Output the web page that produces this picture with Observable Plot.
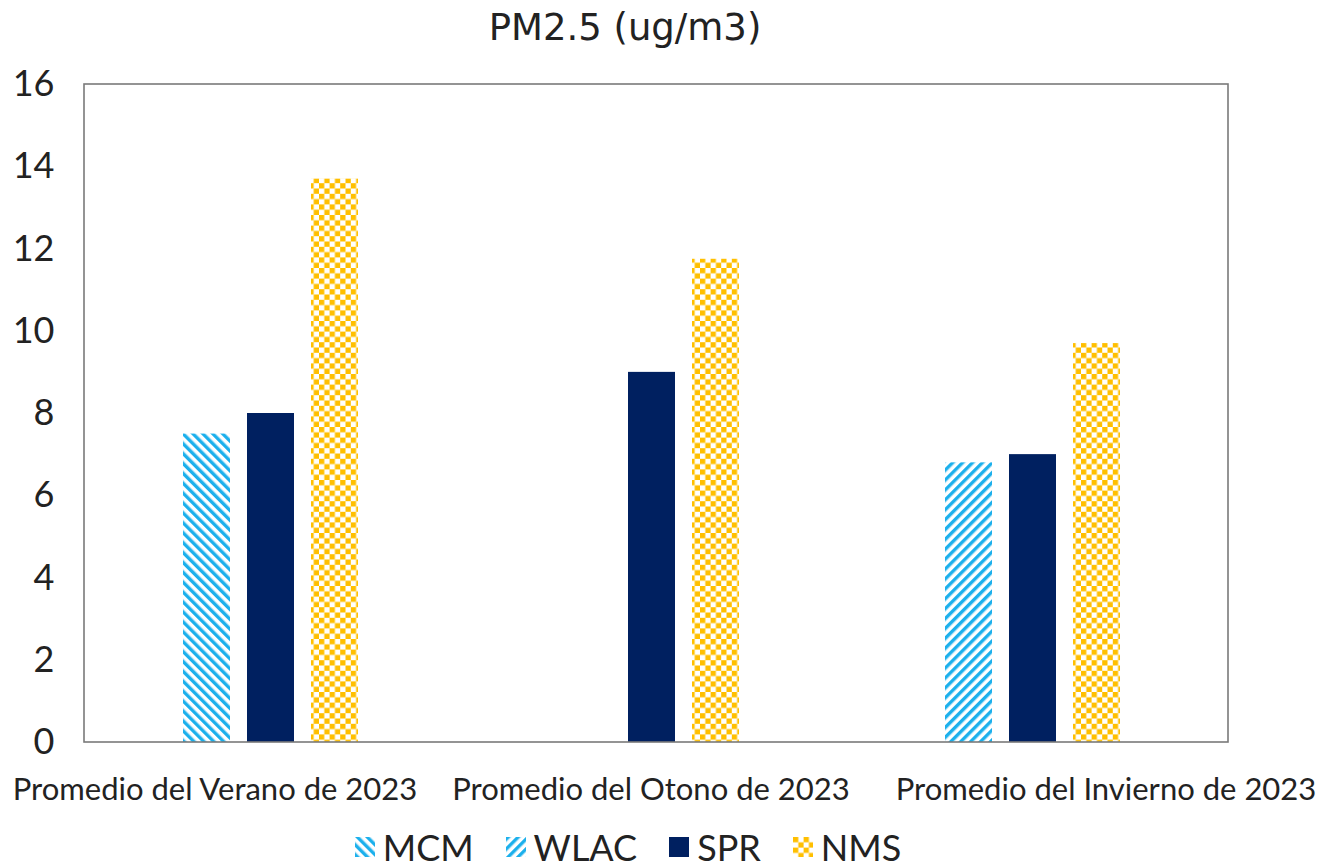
<!DOCTYPE html>
<html>
<head>
<meta charset="utf-8">
<script src="https://cdn.jsdelivr.net/npm/d3@7"></script>
<script src="https://cdn.jsdelivr.net/npm/@observablehq/plot@0.6"></script>
<style>
  html, body { margin: 0; padding: 0; background: #fff; }
  body { width: 1332px; height: 867px; overflow: hidden; font-family: Lato, "Open Sans", sans-serif; color: #222; }
  #title { width: 1250px; height: 56px; line-height: 56px; text-align: center; font-size: 37px; font-family: "DejaVu Sans", sans-serif; }
  #chart svg { display: block; }
  #legend { width: 1256px; height: 62px; display: flex; justify-content: center; align-items: center; font-size: 36px; }
  .item { display: flex; align-items: center; margin: 0 16px; }
  .item svg { margin-right: 8px; }
</style>
</head>
<body>
<svg width="0" height="0" style="position:absolute">
  <defs>
    <pattern id="pat-MCM" patternUnits="userSpaceOnUse" width="7" height="7" patternTransform="rotate(-45)">
      <rect width="7" height="7" fill="#fff"/>
      <rect width="3.4" height="7" fill="#1cb0ec"/>
    </pattern>
    <pattern id="pat-WLAC" patternUnits="userSpaceOnUse" width="7" height="7" patternTransform="rotate(45)">
      <rect width="7" height="7" fill="#fff"/>
      <rect width="3.4" height="7" fill="#1cb0ec"/>
    </pattern>
    <pattern id="pat-NMS" patternUnits="userSpaceOnUse" width="10.6" height="10.6">
      <rect width="10.6" height="10.6" fill="#fff"/>
      <rect x="0" y="0" width="5.3" height="5.3" fill="#ffbf00"/>
      <rect x="5.3" y="5.3" width="5.3" height="5.3" fill="#ffbf00"/>
    </pattern>
  </defs>
</svg>
<div id="title">PM2.5 (ug/m3)</div>
<div id="chart"></div>
<div id="legend"></div>
<script>
// ---- data ----
const seasons = ["Promedio del Verano de 2023", "Promedio del Otono de 2023", "Promedio del Invierno de 2023"];
const seriesNames = ["MCM", "WLAC", "SPR", "NMS"];
const mcmValues  = [7.5, null, null];
const wlacValues = [null, null, 6.8];
const sprValues  = [8.0, 9.0, 7.0];
const nmsValues  = [13.7, 11.75, 9.7];
const yTicks = [0, 2, 4, 6, 8, 10, 12, 14, 16];

// ---- styles ----
const fills = {MCM: "url(#pat-MCM)", WLAC: "url(#pat-WLAC)", SPR: "#002060", NMS: "url(#pat-NMS)"};
const slotOf = {MCM: "a", WLAC: "a", SPR: "b", NMS: "c"};
const labelShift = [-61, -6, 68];

const valuesBySeries = {MCM: mcmValues, WLAC: wlacValues, SPR: sprValues, NMS: nmsValues};
const rows = [];
seasons.forEach((season, i) => {
  seriesNames.forEach(s => {
    const v = valuesBySeries[s][i];
    if (v != null) rows.push({season, series: s, slot: slotOf[s], value: v});
  });
});

const W = 1332, H = 760, ML = 84, MR = 104, MT = 28, MB = 74;

const plot = Plot.plot({
  width: W, height: H,
  marginLeft: ML, marginRight: MR, marginTop: MT, marginBottom: MB,
  style: {fontFamily: "Lato, 'Open Sans', sans-serif", color: "#222", background: "#fff"},
  fx: {domain: seasons, paddingInner: 0, paddingOuter: 0, axis: null, label: null},
  x: {domain: ["a", "b", "c"], paddingInner: 0.27, paddingOuter: 1.6, align: 0.477, axis: null},
  y: {domain: [0, 16], label: null, axis: null},
  color: {type: "identity"},
  marks: [
    Plot.axisY({ticks: yTicks, tickSize: 0, tickPadding: 31, fontSize: 36, label: null, tickFormat: d => d}),
    Plot.barY(rows, {fx: "season", x: "slot", y: "value", fill: d => fills[d.series]}),
    ...seasons.map((s, i) => Plot.text([s], {
      fx: d => d, text: d => d, frameAnchor: "bottom", dy: 57, dx: labelShift[i],
      fontSize: 31, fill: "#222"
    }))
  ]
});

// outer plot frame
d3.select(plot).append("rect")
  .attr("x", ML).attr("y", MT)
  .attr("width", W - ML - MR).attr("height", H - MT - MB)
  .attr("fill", "none").attr("stroke", "#7a7a7a").attr("stroke-width", 1.6);

document.getElementById("chart").appendChild(plot);

// legend
const legend = d3.select("#legend");
seriesNames.forEach(s => {
  const it = legend.append("div").attr("class", "item");
  const sw = it.append("svg").attr("width", 20).attr("height", 20);
  sw.append("rect").attr("width", 20).attr("height", 20).attr("fill", fills[s]);
  it.append("span").text(s);
});
</script>
</body>
</html>
